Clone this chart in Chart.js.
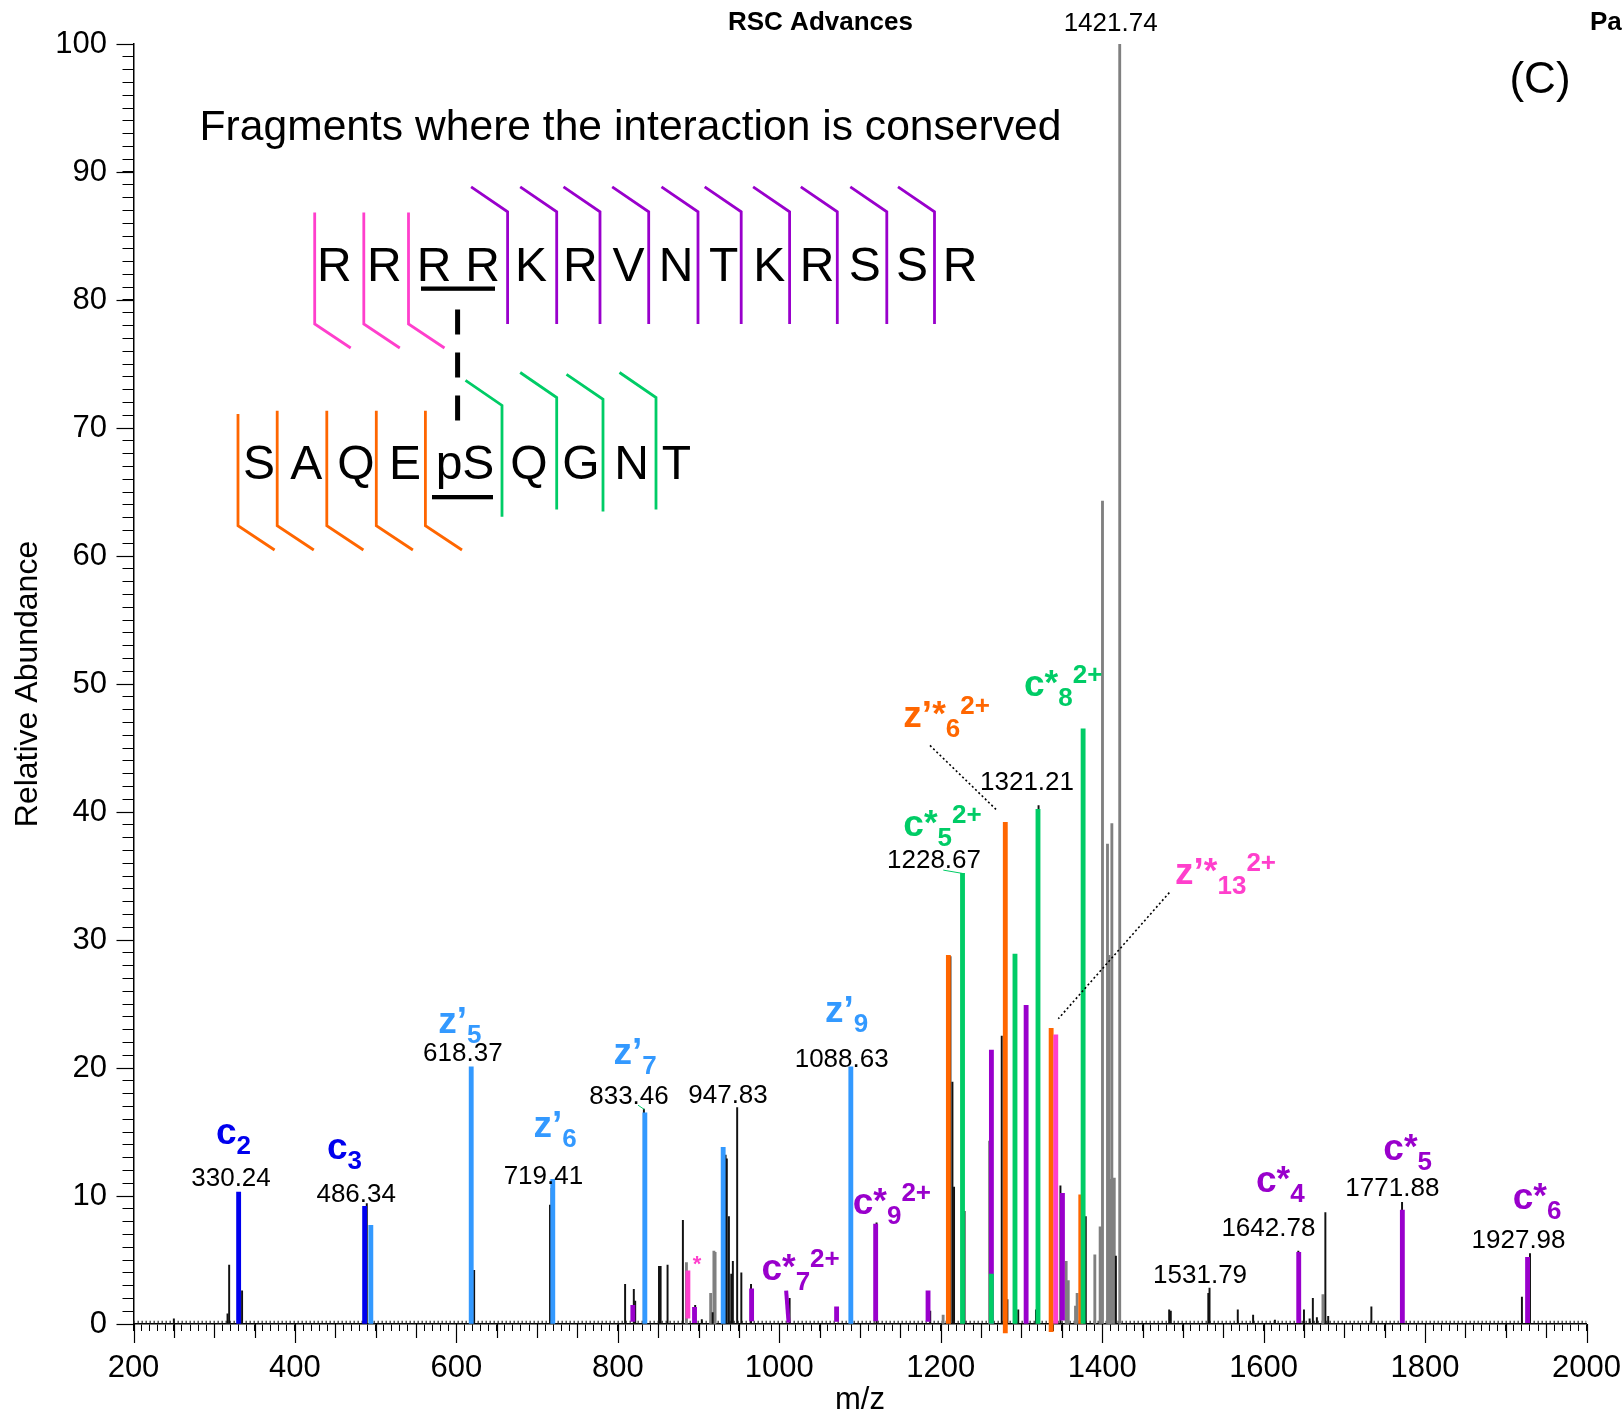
<!DOCTYPE html>
<html>
<head>
<meta charset="utf-8">
<script src="https://cdn.jsdelivr.net/npm/chart.js@4.4.1/dist/chart.umd.min.js"></script>
<style>
  html, body { margin: 0; padding: 0; background: #fff; }
  #wrap { width: 1624px; height: 1418px; }
</style>
</head>
<body>
<div id="wrap"><canvas id="spectrum" width="1624" height="1418"></canvas></div>
<script>
// ---- data: [m/z, relative abundance, (optional lower end)] ----
const cIons = [[330.24, 10.3], [486.34, 9.2]];
const zPrimeIons = [[494.0, 7.7], [618.37, 20.1], [719.41, 11.3], [833.46, 16.5], [930.5, 13.8], [1088.63, 20.1]];
const cStarIons = [[818.6, 1.45, 0.2], [895.0, 1.3, 0.1], [965.7, 2.75, 0.25], [1071.0, 1.35, 0.2], [1119.4, 7.8, 0.25],
  [1184.3, 2.6, 0.2], [1262.8, 21.4], [1305.8, 24.9], [1350.8, 10.2, 0.3], [1643.5, 5.6, 0.1], [1771.88, 8.9, 0.1], [1927.0, 5.2, 0.1]];
const cStarSlanted = [[1008.5, 2.6], [1011.5, 0.1]];
const greenIons = [[1227.0, 35.2], [1262.8, 3.9], [1292.0, 28.9], [1320.5, 40.2], [1376.4, 46.5]];
const orangeIons = [[1209.5, 28.8], [1280.0, 39.2, -0.7], [1336.8, 23.1, -0.6], [1373.5, 10.1]];
const pinkIons = [[886.8, 4.15, 0.45], [1342.5, 22.6]];
const darkPeaks = [[250, 0.4], [316.5, 0.8], [318.5, 4.6], [334.5, 2.6], [489, 9.4], [622, 4.2], [716, 9.3], [718, 10.6],
  [809, 3.1], [819.8, 2.7], [821.5, 1.8], [832.3, 16.8], [851, 4.5], [853, 4.5], [861.6, 4.6], [880.6, 8.1], [895.8, 1.45],
  [904, 0.35], [917.5, 0.9], [933.5, 13.2], [935, 12.9], [937.6, 8.4], [940.5, 3.9], [942.5, 4.9], [947.83, 16.9], [953, 4.0],
  [965, 3.1], [1012.8, 2.0], [1120.5, 7.9], [1187, 1.0], [1212, 28.7], [1214.5, 18.9], [1216.5, 10.7], [1229.5, 8.8],
  [1275.6, 22.5], [1282.6, 1.9], [1296, 1.1], [1318, 1.1], [1321.21, 40.5], [1348.3, 10.8], [1379.7, 8.4], [1417, 5.3],
  [1483, 1.1], [1485, 1.0], [1531.5, 2.4], [1533, 2.8], [1568, 1.1], [1587, 0.7], [1614, 0.3], [1643, 5.7], [1650, 1.1],
  [1657, 0.4], [1661, 2.0], [1666, 0.5], [1676.5, 8.7], [1680, 0.6], [1733.5, 1.35], [1771.5, 9.5], [1920, 2.1], [1930, 5.5]];
const grayPeaks = [[885, 4.8], [915, 2.4], [919, 5.7], [920.5, 5.6], [1203, 0.7], [1260.5, 14.3], [1355.4, 4.9], [1358, 3.4],
  [1367, 1.4], [1369, 2.4], [1390.9, 5.4], [1397.5, 7.6], [1400.4, 64.3], [1406.6, 37.5], [1408.5, 28.8], [1410, 11.3],
  [1412, 39.1], [1415, 11.4], [1421.74, 100], [1673.5, 2.3]];
const noiseFloor = [[200, 0.15], [2000, 0.15]];

const xTickLabels = [200, 400, 600, 800, 1000, 1200, 1400, 1600, 1800, 2000];
const yTickLabels = [0, 10, 20, 30, 40, 50, 60, 70, 80, 90, 100];

// ---- annotations (m/z, abundance) ----
const massLabels = [
  ['330.24', 320.8, 10.75], ['486.34', 475.9, 9.53], ['618.37', 608.0, 20.53], ['719.41', 707.8, 10.9],
  ['833.46', 813.8, 17.17], ['947.83', 936.5, 17.27], ['1088.63', 1077.3, 20.1], ['1228.67', 1191.7, 35.6],
  ['1321.21', 1306.9, 41.75], ['1531.79', 1521.3, 3.2], ['1642.78', 1605.9, 6.85], ['1771.88', 1759.5, 9.98],
  ['1927.98', 1915.8, 5.9], ['1421.74', 1410.5, 101.0]
];

const BLUE = '#0000ee', LBLUE = '#3399ff', PURPLE = '#9900cc', GREEN = '#00cc66', ORANGE = '#ff6600', PINK = '#ff3fcc';
const FONT = '"Liberation Sans", Arial, Helvetica, sans-serif';

const ionLabels = [
  { parts: [['c', 'b'], ['2', 's']], x: 302.2, y: 14.04, color: BLUE },
  { parts: [['c', 'b'], ['3', 's']], x: 439.7, y: 12.9, color: BLUE },
  { parts: [['z\u2019', 'b'], ['5', 's']], x: 577.6, y: 22.74, color: LBLUE },
  { parts: [['z\u2019', 'b'], ['6', 's']], x: 695.5, y: 14.6, color: LBLUE },
  { parts: [['z\u2019', 'b'], ['7', 's']], x: 794.6, y: 20.35, color: LBLUE },
  { parts: [['z\u2019', 'b'], ['9', 's']], x: 1056.7, y: 23.6, color: LBLUE },
  { parts: [['c', 'b'], ['*', 'a'], ['7', 's'], ['2+', 'p']], x: 977.9, y: 3.41, color: PURPLE },
  { parts: [['c', 'b'], ['*', 'a'], ['9', 's'], ['2+', 'p']], x: 1091, y: 8.62, color: PURPLE },
  { parts: [['c', 'b'], ['*', 'a'], ['5', 's'], ['2+', 'p']], x: 1153.7, y: 38.1, color: GREEN },
  { parts: [['z\u2019', 'b'], ['*', 'a'], ['6', 's'], ['2+', 'p']], x: 1153.7, y: 46.65, color: ORANGE },
  { parts: [['c', 'b'], ['*', 'a'], ['8', 's'], ['2+', 'p']], x: 1303.2, y: 49.1, color: GREEN },
  { parts: [['z\u2019', 'b'], ['*', 'a'], ['13', 's'], ['2+', 'p']], x: 1490.3, y: 34.4, color: PINK },
  { parts: [['c', 'b'], ['*', 'a'], ['4', 's']], x: 1590.6, y: 10.3, color: PURPLE },
  { parts: [['c', 'b'], ['*', 'a'], ['5', 's']], x: 1748.3, y: 12.8, color: PURPLE },
  { parts: [['c', 'b'], ['*', 'a'], ['6', 's']], x: 1908.6, y: 9.0, color: PURPLE }
];

const leaders = [
  { from: [1186.7, 45.2], to: [1268.5, 40.2], color: '#000', dash: [2, 2.5], width: 1.6 },
  { from: [1483.2, 33.7], to: [1345.7, 23.85], color: '#000', dash: [2, 2.5], width: 1.6 },
  { from: [1203.2, 35.46], to: [1227.2, 35.2], color: GREEN, dash: [], width: 1 },
  { from: [825, 17.1], to: [833, 16.75], color: GREEN, dash: [], width: 1 }
];

function toBars(arr) {
  return arr.map(p => ({ x: p[0], y: [p.length > 2 ? p[2] : 0, p[1]] }));
}
function toPoints(arr) {
  return arr.map(p => ({ x: p[0], y: p[1] }));
}
function barSet(arr, color, thick, order, extra) {
  return Object.assign({
    type: 'bar', data: toBars(arr), backgroundColor: color, borderWidth: 0,
    barThickness: thick, grouped: false, order: order
  }, extra || {});
}

const tickMarks = {
  id: 'tickMarks',
  afterDraw(chart) {
    const ctx = chart.ctx, xs = chart.scales.x, ys = chart.scales.y;
    const a = chart.chartArea;
    ctx.save();
    ctx.strokeStyle = '#000';
    ctx.lineWidth = 1.2;
    for (let v = 200; v <= 2000; v += 50) {
      const px = Math.round(xs.getPixelForValue(v)) + 0.5;
      const len = xTickLabels.includes(v) ? 19 : 14;
      ctx.beginPath(); ctx.moveTo(px, a.bottom); ctx.lineTo(px, a.bottom + len); ctx.stroke();
    }
    yTickLabels.forEach(v => {
      const py = Math.round(ys.getPixelForValue(v)) + 0.5;
      ctx.beginPath(); ctx.moveTo(a.left, py); ctx.lineTo(a.left - 17, py); ctx.stroke();
    });
    ctx.restore();
  }
};

function drawIon(ctx, x, y, parts, color) {
  const styles = {
    b: { size: 37, dy: 0 }, s: { size: 26, dy: 10 }, p: { size: 26, dy: -13 }, a: { size: 35, dy: -2 }
  };
  ctx.fillStyle = color;
  ctx.textAlign = 'left';
  ctx.textBaseline = 'alphabetic';
  let cx = x;
  parts.forEach(([t, k]) => {
    const s = styles[k];
    ctx.font = 'bold ' + s.size + 'px ' + FONT;
    ctx.fillText(t, cx, y + s.dy);
    cx += ctx.measureText(t).width;
  });
}

const annotations = {
  id: 'annotations',
  afterDraw(chart) {
    const ctx = chart.ctx, xs = chart.scales.x, ys = chart.scales.y;
    ctx.save();
    // leader lines
    leaders.forEach(l => {
      ctx.strokeStyle = l.color; ctx.lineWidth = l.width; ctx.setLineDash(l.dash);
      ctx.beginPath();
      ctx.moveTo(xs.getPixelForValue(l.from[0]), ys.getPixelForValue(l.from[1]));
      ctx.lineTo(xs.getPixelForValue(l.to[0]), ys.getPixelForValue(l.to[1]));
      ctx.stroke();
    });
    ctx.setLineDash([]);
    // m/z labels
    ctx.fillStyle = '#000';
    ctx.font = '26px ' + FONT;
    ctx.textAlign = 'center';
    ctx.textBaseline = 'alphabetic';
    massLabels.forEach(([t, x, y]) => ctx.fillText(t, xs.getPixelForValue(x), ys.getPixelForValue(y)));
    // ion labels
    ionLabels.forEach(l => drawIon(ctx, xs.getPixelForValue(l.x), ys.getPixelForValue(l.y), l.parts, l.color));
    ctx.fillStyle = PINK;
    ctx.font = 'bold 22px ' + FONT;
    ctx.textAlign = 'center';
    ctx.fillText('*', xs.getPixelForValue(898.2), ys.getPixelForValue(4.8) + 8);
    ctx.restore();
  }
};

// header texts and peptide fragmentation scheme
const scheme = {
  id: 'scheme',
  afterDraw(chart) {
    const ctx = chart.ctx;
    ctx.save();
    ctx.fillStyle = '#000';
    ctx.textBaseline = 'alphabetic';
    ctx.textAlign = 'left';
    ctx.font = 'bold 26px ' + FONT;
    ctx.fillText('RSC Advances', 728, 30);
    ctx.fillText('Pa', 1590, 30);
    ctx.font = '44px ' + FONT;
    ctx.textAlign = 'center';
    ctx.fillText('(C)', 1540, 93);
    ctx.font = '42.6px ' + FONT;
    ctx.textAlign = 'left';
    ctx.fillText('Fragments where the interaction is conserved', 199.6, 140);

    ctx.font = '48px ' + FONT;
    ctx.textAlign = 'center';
    const top = ['R', 'R', 'R', 'R', 'K', 'R', 'V', 'N', 'T', 'K', 'R', 'S', 'S', 'R'];
    const topX = [334.4, 384.4, 434, 482.6, 531, 580.4, 628.6, 676, 723.6, 769.2, 817, 864.8, 912, 960];
    top.forEach((t, i) => ctx.fillText(t, topX[i], 280.5));
    const bot = ['S', 'A', 'Q', 'E', 'pS', 'Q', 'G', 'N', 'T'];
    const botX = [258.9, 306.3, 355.8, 404.9, 465, 528.8, 581, 631.7, 676.3];
    bot.forEach((t, i) => ctx.fillText(t, botX[i], 478.6));

    ctx.fillRect(421, 286.5, 74, 4.3);
    ctx.fillRect(432, 495, 61, 4.3);

    ctx.lineWidth = 5;
    ctx.strokeStyle = '#000';
    ctx.setLineDash([25, 18]);
    ctx.beginPath(); ctx.moveTo(457.6, 309.6); ctx.lineTo(457.6, 421.4); ctx.stroke();
    ctx.setLineDash([]);

    ctx.lineWidth = 2.8;
    ctx.lineJoin = 'miter';
    ctx.strokeStyle = PINK;
    [314.7, 363.8, 408.5].forEach(x => {
      ctx.beginPath(); ctx.moveTo(x, 212.5); ctx.lineTo(x, 324); ctx.lineTo(x + 36, 348); ctx.stroke();
    });
    ctx.strokeStyle = PURPLE;
    [507.6, 556.7, 600, 648.7, 698, 741.2, 789.6, 837.3, 886.8, 934.5].forEach(x => {
      ctx.beginPath(); ctx.moveTo(x, 324); ctx.lineTo(x, 211.8); ctx.lineTo(x - 36.5, 186.8); ctx.stroke();
    });
    ctx.strokeStyle = ORANGE;
    [[238, 414], [277.2, 410.7], [326.8, 410.7], [376.3, 410.7], [425.4, 410.7]].forEach(([x, t]) => {
      ctx.beginPath(); ctx.moveTo(x, t); ctx.lineTo(x, 525.7); ctx.lineTo(x + 36.6, 550); ctx.stroke();
    });
    ctx.strokeStyle = GREEN;
    [[502, 405.4, 516.8], [556.7, 397.5, 509.6], [603, 399.3, 511.4], [656, 397.5, 509.6]].forEach(([x, t, b]) => {
      ctx.beginPath(); ctx.moveTo(x, b); ctx.lineTo(x, t); ctx.lineTo(x - 36.5, t - 25); ctx.stroke();
    });
    ctx.restore();
  }
};

new Chart(document.getElementById('spectrum').getContext('2d'), {
  type: 'bar',
  data: {
    datasets: [
      { type: 'line', data: toPoints(noiseFloor), borderColor: '#444', borderWidth: 2.5, borderDash: [1.4, 2.6],
        pointRadius: 0, order: 20 },
      barSet(grayPeaks, '#808080', 2.2, 12),
      barSet(darkPeaks, '#111111', 1.3, 11),
      barSet(cIons, BLUE, 4.2, 6),
      barSet(zPrimeIons, LBLUE, 4.2, 6),
      barSet(cStarIons, PURPLE, 4.2, 5),
      { type: 'line', data: toPoints(cStarSlanted), borderColor: PURPLE, borderWidth: 4, pointRadius: 0, order: 5 },
      barSet(orangeIons, ORANGE, 4.2, 4, { clip: false }),
      barSet(pinkIons, PINK, 4.2, 3),
      barSet(greenIons, GREEN, 4.2, 2)
    ]
  },
  options: {
    responsive: false,
    devicePixelRatio: 1,
    animation: false,
    layout: { padding: { top: 44, right: 37.5, left: 0, bottom: 0 } },
    plugins: { legend: { display: false }, tooltip: { enabled: false } },
    scales: {
      x: {
        type: 'linear', min: 200, max: 2000, offset: false,
        ticks: {
          stepSize: 10, autoSkip: false, maxRotation: 0, minRotation: 0, padding: 19, color: '#000',
          font: { family: FONT, size: 31 },
          callback: v => xTickLabels.includes(v) ? String(v) : ''
        },
        grid: { offset: false, drawOnChartArea: false, drawTicks: true, tickLength: 7, color: '#000', lineWidth: 1 },
        border: { color: '#000', width: 1.5 },
        title: { display: true, text: 'm/z', color: '#000', font: { family: FONT, size: 31 }, padding: { top: 0, bottom: -1 } },
        afterFit: s => { s.height = 94; s.paddingLeft = 0; s.paddingRight = 0; }
      },
      y: {
        min: 0, max: 100,
        ticks: {
          stepSize: 1, autoSkip: false, padding: 15.5, color: '#000',
          font: { family: FONT, size: 31 },
          callback: v => yTickLabels.includes(v) ? String(v) : ''
        },
        grid: { drawOnChartArea: false, drawTicks: true, tickLength: 11, color: '#000', lineWidth: 1 },
        border: { color: '#000', width: 1.5 },
        title: { display: true, text: 'Relative Abundance', color: '#000', font: { family: FONT, size: 32 }, padding: { top: 9, bottom: 0 } },
        afterFit: s => { s.width = 133.5; s.paddingTop = 0; s.paddingBottom = 0; }
      }
    }
  },
  plugins: [tickMarks, annotations, scheme]
});
</script>
</body>
</html>
